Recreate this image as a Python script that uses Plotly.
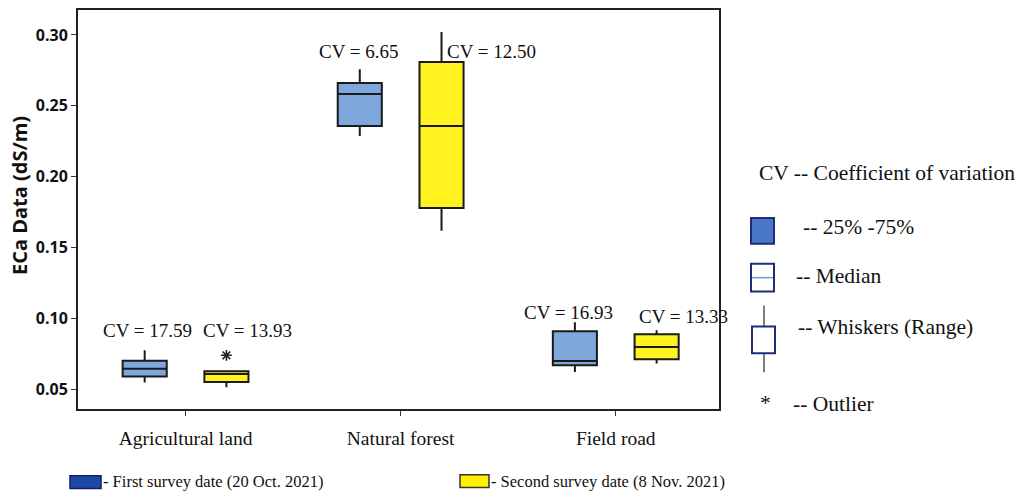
import plotly.graph_objects as go

# Sites and survey summary statistics (ECa, dS/m)
categories = ["Agricultural land", "Natural forest", "Field road"]

first_q1 = [0.0590, 0.2357, 0.0669]
first_median = [0.0644, 0.2584, 0.0699]
first_q3 = [0.0700, 0.2661, 0.0908]
first_low = [0.0547, 0.2286, 0.0622]
first_high = [0.0774, 0.2757, 0.0973]
first_cv = ["17.59", "6.65", "16.93"]

second_q1 = [0.0551, 0.1778, 0.0711]
second_median = [0.0607, 0.2357, 0.0797]
second_q3 = [0.0626, 0.2809, 0.0887]
second_low = [0.0514, 0.1618, 0.0681]
second_high = [0.0626, 0.3020, 0.0915]
second_cv = ["13.93", "12.50", "13.33"]

outlier_site = [0]
outlier_value = [0.0739]

yticks = [0.05, 0.10, 0.15, 0.20, 0.25, 0.30]

# layout constants
W, H = 1021, 495
L, R, T, B = 78, 719, 8, 409
OFF = 0.19
BOXW = 0.205
SERIF = "Liberation Serif"
SANS = "Open Sans"
BLUE = "#7ea8dc"
YELLOW = "#fff21f"
EDGE = "#1a1a1a"


def px(x):
    return (x - L) / (R - L)


def py(y):
    return (B - y) / (B - T)


pos = list(range(len(categories)))
fig = go.Figure()

fig.add_trace(go.Box(
    x=[p - OFF for p in pos], q1=first_q1, median=first_median, q3=first_q3,
    lowerfence=first_low, upperfence=first_high, width=BOXW, whiskerwidth=0,
    fillcolor=BLUE, line=dict(color=EDGE, width=2), boxpoints=False,
    showlegend=False, hoverinfo="skip"))
fig.add_trace(go.Box(
    x=[p + OFF for p in pos], q1=second_q1, median=second_median, q3=second_q3,
    lowerfence=second_low, upperfence=second_high, width=BOXW, whiskerwidth=0,
    fillcolor=YELLOW, line=dict(color=EDGE, width=2), boxpoints=False,
    showlegend=False, hoverinfo="skip"))
fig.add_trace(go.Scatter(
    x=[pos[i] + OFF for i in outlier_site], y=outlier_value, mode="markers",
    marker=dict(symbol="asterisk-open", size=9, color="#222",
                line=dict(color="#222", width=1.6)),
    showlegend=False, hoverinfo="skip"))

# CV labels above each box
cv_first_pos = [(-0.175, 0.0915, "center"), (0.805, 0.2884, "center"), (1.78, 0.1042, "center")]
cv_second_pos = [(0.29, 0.0915, "center"), (1.205, 0.2884, "left"), (2.316, 0.1014, "center")]
annotations = []
for (x, y, anc), cv in zip(cv_first_pos, first_cv):
    annotations.append(dict(x=x, y=y, xref="x", yref="y", text=f"CV = {cv}",
                            showarrow=False, xanchor=anc, yanchor="middle",
                            font=dict(family=SERIF, size=19, color="#111")))
for (x, y, anc), cv in zip(cv_second_pos, second_cv):
    annotations.append(dict(x=x, y=y, xref="x", yref="y", text=f"CV = {cv}",
                            showarrow=False, xanchor=anc, yanchor="middle",
                            font=dict(family=SERIF, size=19, color="#111")))


def note(x, y, text, size=21.5, anchor="left"):
    annotations.append(dict(x=px(x), y=py(y), xref="paper", yref="paper", text=text,
                            showarrow=False, xanchor=anchor, yanchor="middle",
                            font=dict(family=SERIF, size=size, color="#111")))


# key on the right
note(757, 172, "CV -- Coefficient of variation")
note(801, 226, "-- 25% -75%")
note(794, 275, "-- Median")
note(796, 327, "-- Whiskers (Range)")
note(765, 403, "*", anchor="center")
note(791, 404, "-- Outlier")

# survey date key at the bottom
note(101, 482, "- First survey date (20 Oct. 2021)", size=16.5)
note(489, 482, "- Second survey date (8 Nov. 2021)", size=16.5)

# y-axis title
annotations.append(dict(x=px(19), y=py(195), xref="paper", yref="paper",
                        text="ECa Data (dS/m)", textangle=-90, showarrow=False,
                        xanchor="center", yanchor="middle",
                        font=dict(family=SANS, size=20, color="#111", weight="bold")))

shapes = []


def rect(x0, y0, x1, y1, fill, line, lw=2):
    shapes.append(dict(type="rect", xref="paper", yref="paper",
                       x0=px(x0), x1=px(x1), y0=py(y1), y1=py(y0),
                       fillcolor=fill, line=dict(color=line, width=lw), layer="above"))


def seg(x0, y0, x1, y1, color, lw=1.5):
    shapes.append(dict(type="line", xref="paper", yref="paper",
                       x0=px(x0), x1=px(x1), y0=py(y0), y1=py(y1),
                       line=dict(color=color, width=lw), layer="above"))


rect(751, 217, 774, 243, "#4a76c6", "#1e2d78")
rect(751, 263, 774, 291, "white", "#1e2d78")
seg(752, 277, 773, 277, "#6a9ad8", 1.5)
seg(764, 305, 764, 372, "#555", 1.5)
rect(752, 326, 775, 353, "white", "#1e2d78")

rect(70, 476, 101, 489, "#1e4aa5", "#0d1f66", 1.5)
rect(460, 475, 489, 488, "#fff000", "#333", 1.5)

fig.update_layout(
    width=W, height=H,
    margin=dict(l=L, r=W - R, t=T, b=H - B),
    paper_bgcolor="white", plot_bgcolor="white",
    boxmode="overlay",
    annotations=annotations, shapes=shapes,
    xaxis=dict(
        range=[-0.5, 2.48], tickmode="array", tickvals=pos, ticktext=categories,
        ticks="outside", ticklen=5, tickcolor="#333", showgrid=False, zeroline=False,
        showline=True, mirror=True, linecolor="#222", linewidth=2,
        ticklabelstandoff=6,
        tickfont=dict(family=SERIF, size=19.5, color="#111")),
    yaxis=dict(
        range=[0.036, 0.3176], tickmode="array", tickvals=yticks,
        ticktext=[f"{v:.2f}" for v in yticks],
        ticks="outside", ticklen=5, tickcolor="#333", showgrid=False, zeroline=False,
        showline=True, mirror=True, linecolor="#222", linewidth=2,
        tickfont=dict(family=SANS, size=16, color="#111", weight="bold")),
)

fig.write_html("out.html")
